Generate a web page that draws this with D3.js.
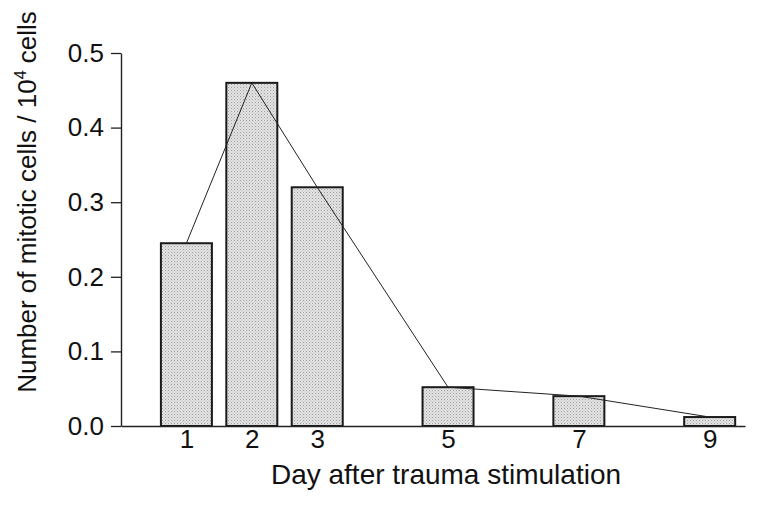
<!DOCTYPE html>
<html>
<head>
<meta charset="utf-8">
<script src="https://cdn.jsdelivr.net/npm/d3@7"></script>
<style>
  body { margin: 0; background: #fff; }
  svg text { font-family: "Liberation Sans", Arial, sans-serif; fill: #111; }
</style>
</head>
<body>
<svg width="766" height="508"></svg>
<script>
// data
var days = [1, 2, 3, 5, 7, 9];
var mitotic = [0.245, 0.46, 0.32, 0.052, 0.04, 0.012];
var yTicks = [0, 0.1, 0.2, 0.3, 0.4, 0.5];

var svg = d3.select("svg");

var x = d3.scaleLinear().domain([0, 9.54]).range([121, 745]);
var y = d3.scaleLinear().domain([0, 0.5]).range([426, 53]);
var barW = 51;

// stipple fill for the bars
var defs = svg.append("defs");
var pat = defs.append("pattern")
    .attr("id", "dots")
    .attr("width", 3).attr("height", 3)
    .attr("patternUnits", "userSpaceOnUse");
pat.append("rect").attr("width", 3).attr("height", 3).attr("fill", "#e2e2e2");
pat.append("rect").attr("x", 0).attr("y", 0).attr("width", 1).attr("height", 1).attr("fill", "#a0a0a0");
pat.append("rect").attr("x", 1.5).attr("y", 1.5).attr("width", 1).attr("height", 1).attr("fill", "#bdbdbd");

// bars
svg.selectAll(".bar")
    .data(days)
    .enter().append("rect")
    .attr("class", "bar")
    .attr("x", (d, i) => x(d) - barW / 2)
    .attr("y", (d, i) => y(mitotic[i]))
    .attr("width", barW)
    .attr("height", (d, i) => y(0) - y(mitotic[i]))
    .attr("fill", "url(#dots)")
    .attr("stroke", "#1a1a1a")
    .attr("stroke-width", 2);

// connecting line through bar tops
var line = d3.line()
    .x((d, i) => x(d))
    .y((d, i) => y(mitotic[i]));

svg.append("path")
    .datum(days)
    .attr("d", line)
    .attr("fill", "none")
    .attr("stroke", "#222")
    .attr("stroke-width", 1);

// y axis
var yAxis = d3.axisLeft(y)
    .tickValues(yTicks)
    .tickFormat(d3.format(".1f"))
    .tickSize(10)
    .tickSizeOuter(0)
    .tickPadding(7);

var gy = svg.append("g")
    .attr("transform", "translate(121,0)")
    .call(yAxis);
gy.select(".domain").attr("stroke", "#222").attr("stroke-width", 1.4);
gy.selectAll(".tick line").attr("stroke", "#222").attr("stroke-width", 1.3);
gy.selectAll(".tick text")
    .attr("font-size", 26)
    .attr("fill", "#111");

// x axis: labels only, no tick marks
var xAxis = d3.axisBottom(x)
    .tickValues(days)
    .tickFormat(d3.format("d"))
    .tickSize(0)
    .tickPadding(4);

var gx = svg.append("g")
    .attr("transform", "translate(0,426)")
    .call(xAxis);
gx.select(".domain").attr("stroke", "#222").attr("stroke-width", 1.4);
gx.selectAll(".tick text")
    .attr("font-size", 26)
    .attr("fill", "#111");

// axis titles
svg.append("text")
    .attr("x", 446)
    .attr("y", 484)
    .attr("text-anchor", "middle")
    .attr("font-size", 28)
    .text("Day after trauma stimulation");

var yt = svg.append("text")
    .attr("transform", "translate(36,202) rotate(-90)")
    .attr("text-anchor", "middle")
    .attr("font-size", 26);
yt.append("tspan").text("Number of mitotic cells / 10");
yt.append("tspan").attr("dy", -10).attr("font-size", 16).text("4");
yt.append("tspan").attr("dy", 10).text(" cells");
</script>
</body>
</html>
